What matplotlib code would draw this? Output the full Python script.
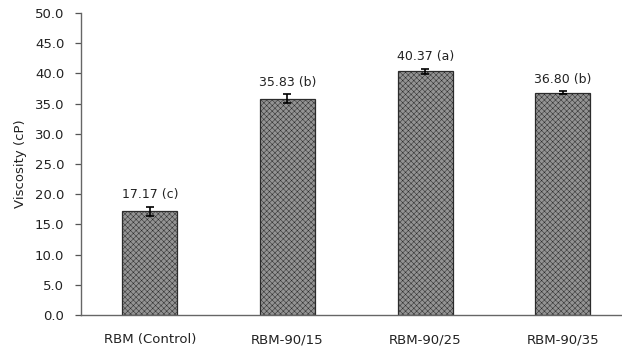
import matplotlib
matplotlib.use("Agg")
import matplotlib.pyplot as plt

categories = ["RBM (Control)", "RBM-90/15", "RBM-90/25", "RBM-90/35"]
viscosity = [17.17, 35.83, 40.37, 36.80]
sd = [0.75, 0.70, 0.40, 0.25]
letters = ["c", "b", "a", "b"]

plt.rcParams["font.family"] = ["DejaVu Sans"]
plt.rcParams["hatch.linewidth"] = 0.35
plt.rcParams["hatch.color"] = "#5e5e5e"

fig = plt.figure(figsize=(6.22, 3.54), dpi=100)
ax = fig.add_axes([81 / 622, 1 - 315 / 354, 1 - 81 / 622, (315 - 13) / 354])

x = range(len(categories))
ax.bar(x, viscosity, width=0.40, color="#939393", edgecolor="#2b2b2b",
       linewidth=0.9, hatch="xxxxxx", zorder=2)
ax.errorbar(x, viscosity, yerr=sd, fmt="none", ecolor="black",
            elinewidth=1.2, capsize=3, capthick=1.2, zorder=3)

for xi, v, e, l in zip(x, viscosity, sd, letters):
    ax.annotate(f"{v:.2f} ({l})", (xi, v + e), xytext=(0, 4),
                textcoords="offset points", ha="center", va="bottom",
                fontsize=9, color="#222222")

ax.set_ylim(0, 50)
ax.set_yticks([i * 5 for i in range(11)])
ax.set_yticklabels([f"{i * 5:.1f}" for i in range(11)], fontsize=9.5, color="#222222")
ax.set_xlim(-0.5, 3.43)
ax.set_xticks(list(x))
ax.set_xticklabels(categories, fontsize=9.5, color="#222222")
ax.tick_params(axis="x", length=0, pad=13)
ax.tick_params(axis="y", length=4, width=0.9, color="#555555", pad=8)
ax.set_ylabel("Viscosity (cP)", fontsize=9.5, color="#222222", labelpad=6)

for side in ("top", "right"):
    ax.spines[side].set_visible(False)
for side in ("left", "bottom"):
    ax.spines[side].set_color("#666666")
    ax.spines[side].set_linewidth(1.0)

fig.savefig("out.png", dpi=100)
